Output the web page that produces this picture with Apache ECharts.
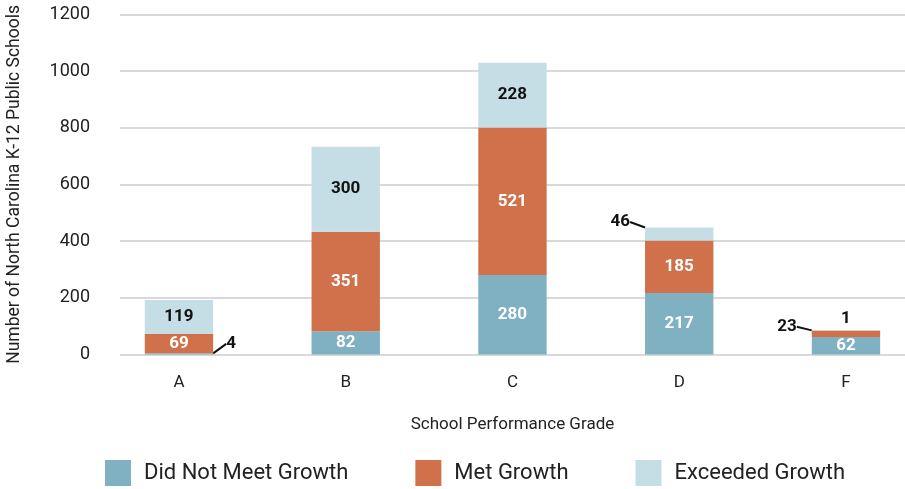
<!DOCTYPE html>
<html>
<head>
<meta charset="utf-8">
<script src="https://cdn.jsdelivr.net/npm/echarts@6/dist/echarts.min.js"></script>
<style>
html,body{margin:0;padding:0;background:#fff;}
#c{width:905px;height:489px;}
</style>
</head>
<body>
<div id="c"></div>
<script>
const categories = ['A', 'B', 'C', 'D', 'F'];
const didNotMeet = [4, 82, 280, 217, 62];
const metGrowth = [69, 351, 521, 185, 23];
const exceeded = [119, 300, 228, 46, 1];
const yTicks = [0, 200, 400, 600, 800, 1000, 1200];

const FONT = 'Roboto, "Liberation Sans", sans-serif';
const colors = ['#7fb1c3', '#d0714b', '#c5dde5'];

// label offsets for the small segments (series index - data index)
const moved = {
  '0-0': {pos: 'right', dx: 10, dy: -10},
  '2-3': {pos: 'left', dx: -12, dy: -12},
  '1-4': {pos: 'left', dx: -12, dy: -7},
  '2-4': {pos: 'top', dx: 0, dy: 0}
};

function mkData(vals, si) {
  return vals.map((v, i) => {
    const m = moved[si + '-' + i];
    if (!m) return v;
    return {
      value: v,
      label: {position: m.pos, color: '#111', distance: 3},
      labelLine: {show: m.pos !== 'top'}
    };
  });
}

function mkSeries(name, vals, si, labelColor) {
  return {
    name: name,
    type: 'bar',
    stack: 'total',
    xAxisIndex: 1,
    yAxisIndex: 1,
    barWidth: '41%',
    itemStyle: {color: colors[si]},
    data: mkData(vals, si),
    label: {
      show: true,
      position: 'inside',
      color: labelColor,
      fontFamily: FONT,
      fontWeight: 'bold',
      fontSize: 17
    },
    labelLine: {show: false, lineStyle: {color: '#111', width: 2}},
    labelLayout: function (p) {
      const m = moved[p.seriesIndex + '-' + p.dataIndex];
      if (!m) return {};
      return {dx: m.dx, dy: m.dy};
    }
  };
}

const chart = echarts.init(document.getElementById('c'), null, {renderer: 'canvas'});
chart.setOption({
  animation: false,
  backgroundColor: '#fff',
  textStyle: {fontFamily: FONT},
  grid: [
    {left: 120, right: 0, top: 14.3, bottom: 134.5, outerBoundsMode: 'none', containLabel: false},
    {left: 95.6, width: 833.75, top: 14.3, bottom: 134.5, outerBoundsMode: 'none', containLabel: false}
  ],
  xAxis: [
    {gridIndex: 0, type: 'category', data: categories, show: false},
    {
      gridIndex: 1, type: 'category', data: categories,
      axisLine: {show: false}, axisTick: {show: false},
      axisLabel: {color: '#222', fontSize: 17, margin: 20, fontFamily: FONT},
      name: 'School Performance Grade', nameLocation: 'middle', nameGap: 62,
      nameTextStyle: {color: '#222', fontSize: 17, fontFamily: FONT}
    }
  ],
  yAxis: [
    {
      gridIndex: 0, type: 'value', min: 0, max: 1200, interval: 200,
      axisLine: {show: false}, axisTick: {show: false},
      axisLabel: {color: '#222', fontSize: 18, margin: 30, fontFamily: FONT,
                  formatter: v => String(v)},
      splitLine: {lineStyle: {color: '#d9d9d9', width: 2}},
      name: 'Number of North Carolina K-12 Public Schools', nameLocation: 'middle',
      nameGap: 96, nameRotate: 90,
      nameTextStyle: {color: '#222', fontSize: 17.5, fontFamily: FONT}
    },
    {gridIndex: 1, type: 'value', min: 0, max: 1200, interval: 200, show: false,
     splitLine: {show: false}}
  ],
  legend: {
    bottom: -2, left: 100,
    itemWidth: 26, itemHeight: 26, itemGap: 67, icon: 'rect',
    textStyle: {color: '#222', fontSize: 22, fontFamily: FONT, padding: [0, 0, 0, 8]},
    data: ['Did Not Meet Growth', 'Met Growth', 'Exceeded Growth']
  },
  series: [
    mkSeries('Did Not Meet Growth', didNotMeet, 0, '#fff'),
    mkSeries('Met Growth', metGrowth, 1, '#fff'),
    mkSeries('Exceeded Growth', exceeded, 2, '#111')
  ]
});
</script>
</body>
</html>
